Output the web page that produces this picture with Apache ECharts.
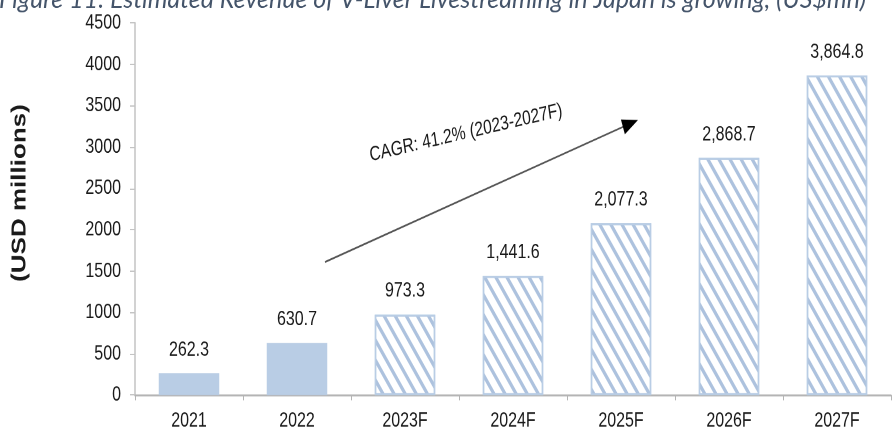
<!DOCTYPE html>
<html>
<head>
<meta charset="utf-8">
<script src="https://cdn.jsdelivr.net/npm/echarts@6/dist/echarts.min.js"></script>
<style>
  html, body { margin: 0; padding: 0; background: #ffffff; }
  #frame { position: relative; width: 892px; height: 437px; overflow: hidden; background: #ffffff; }
  /* the chart is laid out at a shorter height and stretched vertically,
     which gives the tall, condensed look of the printed figure */
  #chart { position: absolute; left: 0; top: 0; width: 892px; height: 336px;
           transform-origin: 0 0; transform: scaleY(1.30060); }
</style>
</head>
<body>
<div id="frame"><div id="chart"></div></div>
<script>
// Revenue of V-Liver livestreaming in Japan, USD millions
const years = ['2021', '2022', '2023F', '2024F', '2025F', '2026F', '2027F'];
const revenue = [262.3, 630.7, 973.3, 1441.6, 2077.3, 2868.7, 3864.8];
const isForecast = [false, false, true, true, true, true, true];
const yTicks = [0, 500, 1000, 1500, 2000, 2500, 3000, 3500, 4000, 4500];

const titleText = 'Figure 11: Estimated Revenue of V-Liver Livestreaming in Japan is growing, (US$mn)';
const cagrText = 'CAGR: 41.2% (2023-2027F)';
const yName = '(USD millions)';

const S = 437 / 336;              // vertical stretch of the page
const FONT = '"Liberation Sans", Arial, sans-serif';
const BAR_BLUE = '#b9cde5';

const hatch = {
  color: '#adc2de',
  dashArrayX: [1, 0],
  dashArrayY: [2.6, 5.1],
  rotation: 0.946
};

const barData = revenue.map((v, i) => ({
  value: v,
  itemStyle: isForecast[i]
    ? { color: '#ffffff', borderColor: BAR_BLUE, borderWidth: 1.5, decal: hatch }
    : { color: BAR_BLUE }
}));

function fmt(v) {
  return v.toLocaleString('en-US', { minimumFractionDigits: 1, maximumFractionDigits: 1 });
}

const chart = echarts.init(document.getElementById('chart'), null, { renderer: 'canvas', devicePixelRatio: 2 });

chart.setOption({
  animation: false,
  backgroundColor: '#ffffff',
  grid: { left: 135, right: 1, top: 23 / S, bottom: 336 - 395 / S },
  xAxis: {
    type: 'category',
    data: years,
    axisLine: { lineStyle: { color: '#b4b4b4', width: 1.5 } },
    axisTick: { show: true, length: 4, lineStyle: { color: '#b4b4b4' } },
    axisLabel: { color: '#1a1a1a', fontFamily: FONT, fontSize: 16, margin: 12 }
  },
  yAxis: {
    type: 'value',
    min: yTicks[0],
    max: yTicks[yTicks.length - 1],
    interval: yTicks[1] - yTicks[0],
    splitLine: { show: false },
    axisLine: { show: true, lineStyle: { color: '#c4c4c4', width: 1.5 } },
    axisTick: { show: true, length: 5, lineStyle: { color: '#c4c4c4' } },
    axisLabel: { color: '#1a1a1a', fontFamily: FONT, fontSize: 16, margin: 14, formatter: v => String(v) }
  },
  series: [{
    type: 'bar',
    data: barData,
    barWidth: '56%',
    label: {
      show: true,
      position: 'top',
      distance: 10,
      color: '#1a1a1a',
      fontFamily: FONT,
      fontSize: 16,
      formatter: p => fmt(p.value)
    }
  }],
  graphic: [
    {
      type: 'text',
      x: -1,
      y: 12 / S,
      scaleY: 1 / S,
      style: {
        text: titleText,
        fill: '#44546a',
        font: 'italic 25px Lato, "Open Sans", sans-serif',
        verticalAlign: 'bottom'
      }
    },
    {
      type: 'text',
      x: 20,
      y: 193 / S,
      rotation: Math.PI / 2,
      style: {
        text: yName,
        fill: '#1a1a1a',
        font: 'bold 20px ' + FONT,
        align: 'center',
        verticalAlign: 'middle'
      }
    },
    {
      type: 'line',
      shape: { x1: 325, y1: 262 / S, x2: 626, y2: 125.5 / S },
      style: { stroke: '#555555', lineWidth: 1.4 }
    },
    {
      type: 'polygon',
      x: 638, y: 120 / S,
      rotation: Math.atan2(142 / S, 313),
      shape: { points: [[0, 0], [-16, -6], [-16, 6]] },
      style: { fill: '#000000' }
    },
    {
      type: 'text',
      x: 466,
      y: 133 / S,
      rotation: Math.atan2(45 / S, 191),
      style: {
        text: cagrText,
        fill: '#1a1a1a',
        font: '15.5px ' + FONT,
        align: 'center',
        verticalAlign: 'middle'
      }
    }
  ]
});
</script>
</body>
</html>
